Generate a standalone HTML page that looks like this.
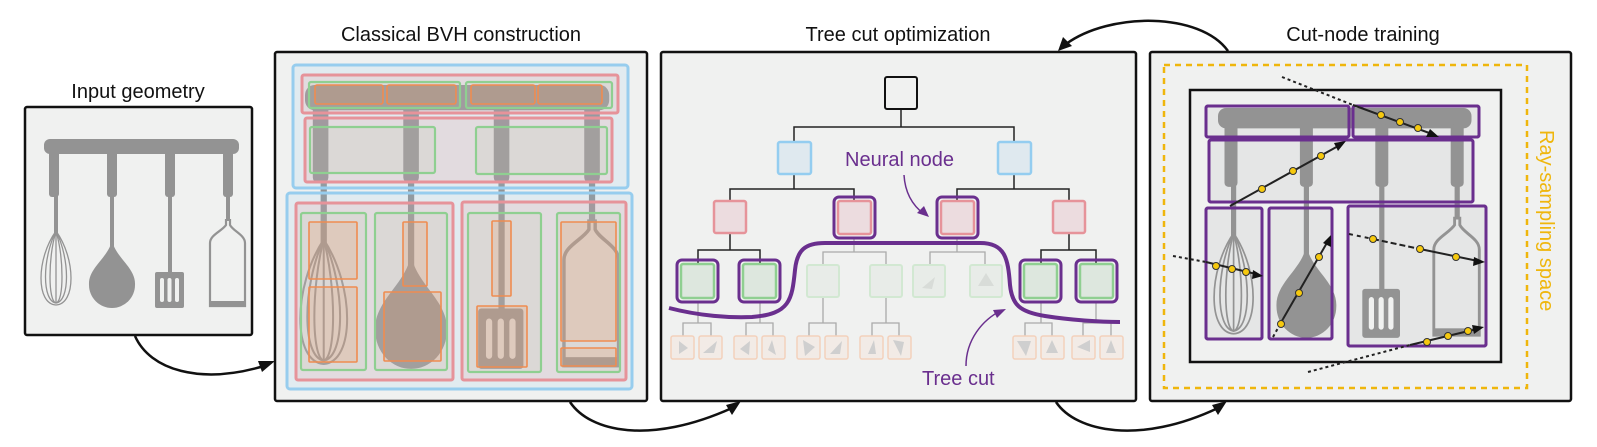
<!DOCTYPE html>
<html><head><meta charset="utf-8"><style>
html,body{margin:0;padding:0;background:#fff;}
svg{display:block;}
text{font-family:"Liberation Sans",sans-serif;}
</style></head><body>
<svg width="1597" height="447" viewBox="0 0 1597 447" xmlns="http://www.w3.org/2000/svg">
<defs>
 <g id="ut">
  <rect x="0" y="0" width="195" height="15" rx="6" fill="#939393"/>
  <g fill="#939393">
   <rect x="5" y="12" width="10" height="46" rx="3"/>
   <rect x="63" y="12" width="10" height="46" rx="3"/>
   <rect x="121" y="12" width="10" height="46" rx="3"/>
   <rect x="179" y="12" width="10" height="46" rx="3"/>
   <rect x="10" y="56" width="4" height="40"/>
   <rect x="66" y="56" width="4" height="70"/>
   <rect x="124" y="56" width="4" height="80"/>
   <rect x="182" y="56" width="4" height="26"/>
   <path d="M68 100 C70 118 92 128 91 146 A23 23 0 1 1 45 146 C44 128 66 118 68 100 Z"/>
   <rect x="111" y="133" width="29" height="36" rx="2"/>
  </g>
  <g fill="#f0f1f0"><rect x="116" y="139" width="4" height="24" rx="2"/><rect x="123.5" y="139" width="4" height="24" rx="2"/><rect x="131" y="139" width="4" height="24" rx="2"/></g>
  <g fill="none" stroke="#939393" stroke-width="1.3">
   <path d="M12 92 C-8 120 -8 165 12 166 C32 165 32 120 12 92"/>
   <path d="M12 92 C-2 120 -2 162 12 164 C26 162 26 120 12 92"/>
   <path d="M12 92 C4 120 4 162 12 164 C20 162 20 120 12 92"/>
   <path d="M12 92 L12 164"/>
  </g>
  <g fill="none" stroke="#939393" stroke-width="2.2">
   <path d="M182 80 L182 86 C178 92 166 96 166 104 L166 167 L201 167 L201 104 C201 96 189 92 186 86 L186 80"/>
  </g>
  <rect x="166" y="162" width="35" height="6" fill="#939393"/>
 </g>
</defs>

<!-- titles -->
<g font-size="20" fill="#111" text-anchor="middle">
 <text x="138" y="98">Input geometry</text>
 <text x="461" y="41">Classical BVH construction</text>
 <text x="898" y="41">Tree cut optimization</text>
 <text x="1363" y="41">Cut-node training</text>
</g>

<!-- Input panel -->
<rect x="25" y="107" width="227" height="228" rx="2" fill="#f0f1f0" stroke="#111" stroke-width="2.5"/>
<use href="#ut" transform="translate(44,139)"/>

<!-- BVH panel -->
<rect x="275" y="52" width="372" height="349" rx="2" fill="#f0f1f0" stroke="#111" stroke-width="2.5"/>
<use href="#ut" transform="translate(305,85) scale(1.56,1.68)"/>
<g stroke-width="3">
 <rect x="293" y="65" width="335" height="123" rx="3" fill="rgba(142,203,239,0.15)" stroke="#97cdee"/>
 <rect x="287" y="193" width="345" height="196" rx="3" fill="rgba(142,203,239,0.15)" stroke="#97cdee"/>
 <rect x="302" y="75" width="316" height="38" rx="2" fill="rgba(232,147,152,0.18)" stroke="#e6939a"/>
 <rect x="305" y="118" width="307" height="64" rx="2" fill="rgba(232,147,152,0.18)" stroke="#e6939a"/>
 <rect x="296" y="203" width="157" height="177" rx="2" fill="rgba(232,147,152,0.18)" stroke="#e6939a"/>
 <rect x="462" y="202" width="164" height="178" rx="2" fill="rgba(232,147,152,0.18)" stroke="#e6939a"/>
</g>
<g stroke-width="2.2" fill="rgba(170,200,160,0.12)" stroke="#8fcf91">
 <rect x="309" y="82" width="151" height="26" rx="2"/>
 <rect x="466" y="82" width="146" height="26" rx="2"/>
 <rect x="310" y="127" width="125" height="46" rx="2"/>
 <rect x="476" y="127" width="131" height="47" rx="2"/>
 <rect x="301" y="213" width="65" height="157" rx="2"/>
 <rect x="375" y="213" width="72" height="157" rx="2"/>
 <rect x="468" y="213" width="73" height="159" rx="2"/>
 <rect x="557" y="213" width="63" height="159" rx="2"/>
</g>
<g stroke-width="1.6" fill="rgba(239,140,80,0.18)" stroke="#ef8c50">
 <rect x="315" y="85" width="68" height="19" rx="2"/>
 <rect x="387" y="85" width="69" height="19" rx="2"/>
 <rect x="471" y="85" width="64" height="19" rx="2"/>
 <rect x="538" y="85" width="64" height="19" rx="2"/>
 <rect x="309" y="222" width="48" height="57" rx="1"/>
 <rect x="309" y="287" width="48" height="75" rx="1"/>
 <rect x="403" y="222" width="24" height="64" rx="1"/>
 <rect x="384" y="292" width="57" height="69" rx="1"/>
 <rect x="492" y="221" width="19" height="75" rx="1"/>
 <rect x="477" y="306" width="50" height="61" rx="1"/>
 <rect x="561" y="222" width="55" height="119" rx="1"/>
 <rect x="561" y="348" width="55" height="18" rx="1"/>
</g>

<!-- Tree panel -->
<rect x="661" y="52" width="475" height="349" rx="2" fill="#f0f1f0" stroke="#111" stroke-width="2.5"/>
<g stroke="#222" stroke-width="1.5" fill="none">
 <path d="M901 109 V127 M794 142 V127 H1014 V142"/>
 <path d="M794 174 V189 M730 201 V189 H854 V201"/>
 <path d="M1014 174 V189 M957 201 V189 H1069 V201"/>
 <path d="M730 233 V250 M698 264 V250 H760 V264"/>
 <path d="M1069 233 V250 M1041 264 V250 H1096 V264"/>
</g>
<g stroke="#aaa" stroke-width="1.3" fill="none">
 <path d="M854 238 V252 M823 264 V252 H886 V264"/>
 <path d="M957 238 V252 M930 264 V252 H985 V264"/>
 <path d="M698 302 V323 M683 336 V323 H711 V336"/>
 <path d="M760 302 V323 M746 336 V323 H773 V336"/>
 <path d="M823 297 V323 M809 336 V323 H836 V336"/>
 <path d="M886 297 V323 M872 336 V323 H899 V336"/>
 <path d="M1041 302 V323 M1025 336 V323 H1052 V336"/>
 <path d="M1096 302 V323 M1083 336 V323 H1111 V336"/>
</g>
<rect x="885" y="77" width="32" height="32" rx="2" fill="#f0f1f0" stroke="#111" stroke-width="2"/>
<g fill="#dfe9ef" stroke="#94cdf0" stroke-width="2.5">
 <rect x="778" y="142" width="33" height="32" rx="2"/>
 <rect x="998" y="142" width="33" height="32" rx="2"/>
</g>
<g stroke="#6a2f8e" stroke-width="3" fill="none">
 <rect x="834" y="197" width="41" height="41" rx="5"/>
 <rect x="937" y="197" width="41" height="41" rx="5"/>
 <rect x="677" y="260" width="41" height="42" rx="5"/>
 <rect x="739" y="260" width="41" height="42" rx="5"/>
 <rect x="1020" y="260" width="41" height="42" rx="5"/>
 <rect x="1076" y="260" width="41" height="42" rx="5"/>
</g>
<g fill="#ecdcdf" stroke="#e6939a" stroke-width="2.5">
 <rect x="714" y="201" width="32" height="32" rx="2"/>
 <rect x="838" y="201" width="33" height="33" rx="2"/>
 <rect x="941" y="201" width="33" height="33" rx="2"/>
 <rect x="1053" y="201" width="32" height="32" rx="2"/>
</g>
<g fill="#dde7de" stroke="#8fcf91" stroke-width="2.5">
 <rect x="681" y="264" width="33" height="34" rx="2"/>
 <rect x="743" y="264" width="33" height="34" rx="2"/>
 <rect x="1024" y="264" width="33" height="34" rx="2"/>
 <rect x="1080" y="264" width="33" height="34" rx="2"/>
</g>
<g fill="#e8ece8" stroke="#d2e8d2" stroke-width="2">
 <rect x="807" y="265" width="32" height="32" rx="2"/>
 <rect x="870" y="265" width="32" height="32" rx="2"/>
 <rect x="913" y="265" width="32" height="32" rx="2"/>
 <rect x="970" y="265" width="32" height="32" rx="2"/>
</g>
<g fill="#d8dcd8"><path d="M922 288 L935 277 L932 289 Z"/><path d="M986 273 L994 286 L978 286 Z"/></g>
<g fill="#f2ebe6" stroke="#f3d1bc" stroke-width="1.5">
 <rect x="671" y="336" width="23" height="23" rx="2"/><rect x="699" y="336" width="23" height="23" rx="2"/>
 <rect x="734" y="336" width="23" height="23" rx="2"/><rect x="762" y="336" width="23" height="23" rx="2"/>
 <rect x="797" y="336" width="23" height="23" rx="2"/><rect x="825" y="336" width="23" height="23" rx="2"/>
 <rect x="860" y="336" width="23" height="23" rx="2"/><rect x="888" y="336" width="23" height="23" rx="2"/>
 <rect x="1013" y="336" width="23" height="23" rx="2"/><rect x="1041" y="336" width="23" height="23" rx="2"/>
 <rect x="1072" y="336" width="23" height="23" rx="2"/><rect x="1100" y="336" width="23" height="23" rx="2"/>
</g>
<g fill="#cfcfcf">
 <path d="M679 341 L688 348 L679 354Z"/><path d="M703 353 L717 341 L714 353Z"/>
 <path d="M750 341 L740 349 L749 355Z"/><path d="M772 340 L776 355 L768 350Z"/>
 <path d="M803 340 L815 347 L805 356Z"/><path d="M830 354 L842 341 L840 354Z"/>
 <path d="M874 340 L868 354 L876 354Z"/><path d="M893 340 L904 342 L901 356Z"/>
 <path d="M1017 341 L1031 341 L1026 356Z"/><path d="M1052 340 L1058 353 L1046 353Z"/>
 <path d="M1090 340 L1077 347 L1090 352Z"/><path d="M1111 340 L1116 353 L1106 353Z"/>
</g>
<path d="M669 308 C700 316 730 318 752 317 C790 314 792 300 795 270 C797 250 805 243 825 243 L980 243 C1005 243 1008 258 1010 285 C1012 305 1020 312 1045 316 C1070 320 1100 322 1120 322" fill="none" stroke="#6a2f8e" stroke-width="4"/>
<g fill="#6a2f8e" font-size="20">
 <text x="845" y="166">Neural node</text>
 <text x="922" y="385">Tree cut</text>
</g>
<g stroke="#6a2f8e" stroke-width="1.5" fill="none">
 <path d="M904 175 C905 192 912 205 924 214"/>
 <path d="M966 366 C966 340 982 320 1002 310"/>
</g>
<g fill="#6a2f8e">
 <path d="M929 217 L917 213 L924 206 Z"/>
 <path d="M1006 309 L997 318 L993 310 Z"/>
</g>

<!-- Cut-node panel -->
<rect x="1150" y="52" width="421" height="349" rx="2" fill="#f0f1f0" stroke="#111" stroke-width="2.5"/>
<rect x="1164" y="65" width="363" height="323" fill="none" stroke="#efb60c" stroke-width="2.5" stroke-dasharray="6,5"/>
<rect x="1190" y="90" width="311" height="272" fill="#f0f1f0" stroke="#111" stroke-width="2.5"/>
<g fill="#e5e6e6" stroke="#6a2f8e" stroke-width="3">
 <rect x="1206" y="106" width="143" height="31" rx="2"/>
 <rect x="1353" y="106" width="126" height="31" rx="2"/>
 <rect x="1209" y="140" width="264" height="62" rx="2"/>
 <rect x="1206" y="208" width="56" height="131" rx="2"/>
 <rect x="1269" y="208" width="63" height="131" rx="2"/>
 <rect x="1348" y="206" width="138" height="140" rx="2"/>
</g>
<use href="#ut" transform="translate(1218,108) scale(1.3,1.36)"/>
<g fill="none" stroke="#6a2f8e" stroke-width="3">
 <rect x="1206" y="106" width="143" height="31" rx="2"/>
 <rect x="1353" y="106" width="126" height="31" rx="2"/>
 <rect x="1209" y="140" width="264" height="62" rx="2"/>
 <rect x="1206" y="208" width="56" height="131" rx="2"/>
 <rect x="1269" y="208" width="63" height="131" rx="2"/>
 <rect x="1348" y="206" width="138" height="140" rx="2"/>
</g>
<text transform="translate(1540,130) rotate(90)" font-size="20" fill="#efb60c">Ray-sampling space</text>
<g stroke="#222" stroke-width="2" fill="none">
 <path d="M1282 77 L1353 105" stroke-dasharray="3,3"/><path d="M1353 105 L1432 134"/>
 <path d="M1230 206 L1340 145"/>
 <path d="M1173 256 L1206 262" stroke-dasharray="3,3"/><path d="M1206 262 L1256 274"/>
 <path d="M1273 337 L1283 319" stroke-dasharray="3,3"/><path d="M1283 319 L1328 241"/>
 <path d="M1349 234 L1373 239" stroke-dasharray="4,4"/><path d="M1373 239 L1420 249" stroke-dasharray="6,3"/><path d="M1420 249 L1478 261"/>
 <path d="M1308 372 L1410 345" stroke-dasharray="3,3"/><path d="M1410 345 L1477 329"/>
</g>
<g fill="#111">
 <path d="M1439 137 L1426 137 L1430 129 Z"/>
 <path d="M1346 141 L1338 151 L1334 143 Z"/>
 <path d="M1263 276 L1252 279 L1253 270 Z"/>
 <path d="M1331 235 L1331 247 L1323 243 Z"/>
 <path d="M1485 262 L1473 266 L1474 257 Z"/>
 <path d="M1484 327 L1474 334 L1472 325 Z"/>
</g>
<g fill="#f6c90e" stroke="#333" stroke-width="1">
 <circle cx="1381" cy="115" r="3.5"/><circle cx="1400" cy="122" r="3.5"/><circle cx="1418" cy="128" r="3.5"/>
 <circle cx="1262" cy="189" r="3.5"/><circle cx="1293" cy="171" r="3.5"/><circle cx="1321" cy="156" r="3.5"/>
 <circle cx="1216" cy="266" r="3.5"/><circle cx="1232" cy="269" r="3.5"/><circle cx="1246" cy="272" r="3.5"/>
 <circle cx="1281" cy="324" r="3.5"/><circle cx="1299" cy="293" r="3.5"/><circle cx="1319" cy="257" r="3.5"/>
 <circle cx="1373" cy="239" r="3.5"/><circle cx="1420" cy="249" r="3.5"/><circle cx="1456" cy="257" r="3.5"/>
 <circle cx="1427" cy="342" r="3.5"/><circle cx="1448" cy="336" r="3.5"/><circle cx="1468" cy="331" r="3.5"/>
</g>

<!-- flow arrows -->
<g fill="none" stroke="#111" stroke-width="2.5">
 <path d="M135 336 C150 370 200 385 264 366"/>
 <path d="M570 402 C590 432 650 445 732 408"/>
 <path d="M1056 402 C1076 432 1140 445 1218 408"/>
 <path d="M1228 51 C1200 12 1110 12 1066 44"/>
</g>
<g fill="#111">
 <path d="M275 361 L262 372 L258 361 Z"/>
 <path d="M741 401 L732 415 L726 405 Z"/>
 <path d="M1227 401 L1218 415 L1212 405 Z"/>
 <path d="M1058 51 L1063 37 L1072 46 Z"/>
</g>
</svg>
</body></html>
